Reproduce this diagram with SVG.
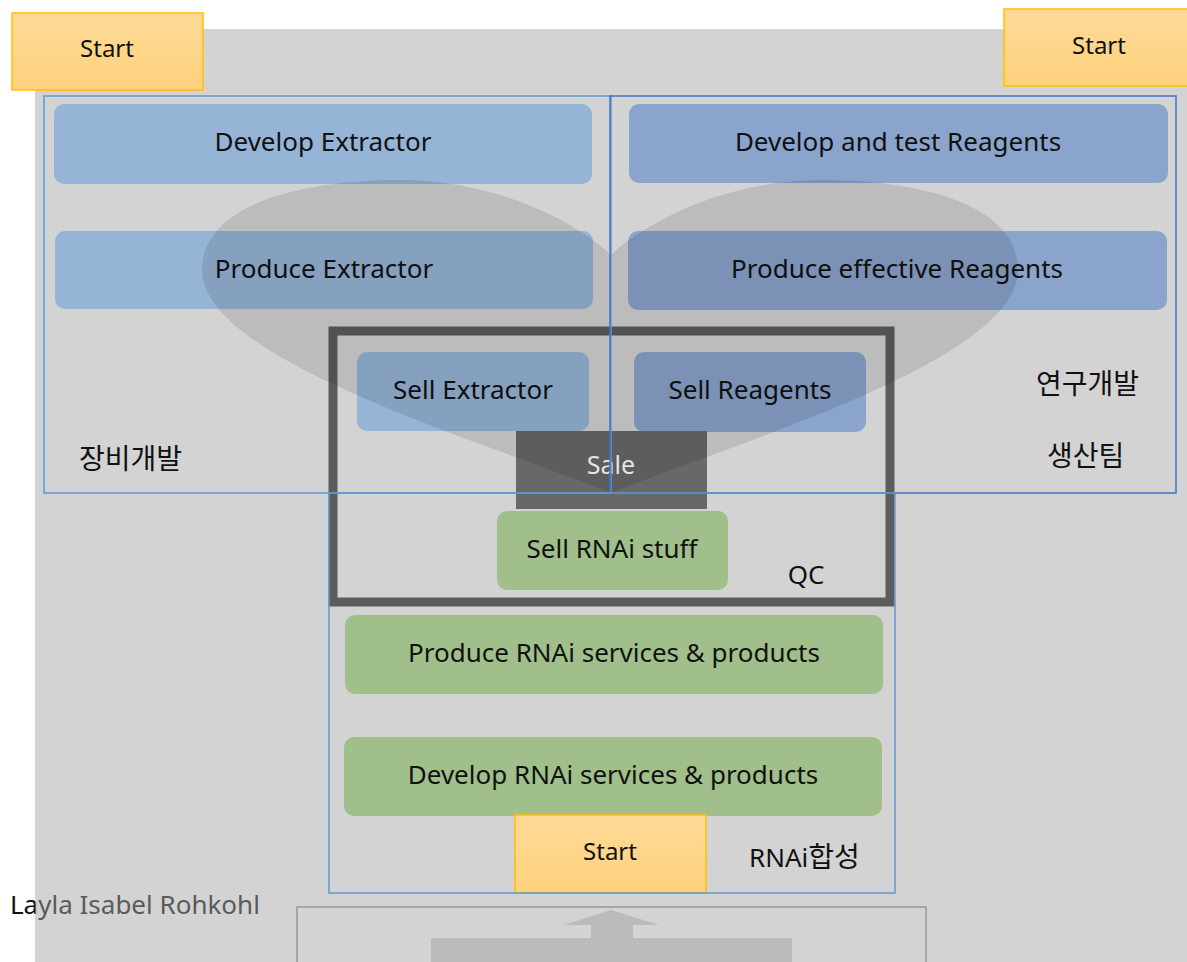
<svg xmlns="http://www.w3.org/2000/svg" width="1187" height="962" viewBox="0 0 1187 962">
<style>
text{font-family:"Noto Sans","Noto Sans CJK KR",sans-serif;font-size:26px;fill:#111;text-anchor:middle}
.lbl{text-anchor:start}
.ko{font-size:28px}
.st{font-size:24px}
.ext{fill:#95b4d6}
.rea{fill:#8aa4cc}
.grn{fill:#a0bf8b}
.start{fill:url(#sg);stroke:#ffc000;stroke-width:1.5}
.lane{fill:none;stroke:#5b9bd5;stroke-width:1.5}
.lane2{fill:none;stroke:#4472c4;stroke-width:1.5}
</style>
<defs>
<linearGradient id="sg" x1="0" y1="0" x2="0" y2="1">
<stop offset="0" stop-color="#ffda98"/>
<stop offset="1" stop-color="#fed27c"/>
</linearGradient>
<linearGradient id="ag" gradientUnits="userSpaceOnUse" x1="0" y1="0" x2="1187" y2="0">
<stop offset="0.0295" stop-color="#111"/>
<stop offset="0.0295" stop-color="#5a5a5a"/>
</linearGradient>
</defs>
<rect x="0" y="0" width="1187" height="962" fill="#ffffff"/>
<rect x="35" y="29" width="1152" height="933" fill="#d3d3d3"/>

<g id="start-left"><rect class="start" x="12" y="13" width="191" height="77"/><text class="st" x="107" y="57">Start</text></g>
<g id="start-right"><rect class="start" x="1004" y="9" width="190" height="77"/><text class="st" x="1099" y="54">Start</text></g>

<g id="develop-extractor"><rect class="ext" x="54" y="104" width="538" height="80" rx="10"/><text x="323" y="151">Develop Extractor</text></g>
<g id="produce-extractor"><rect class="ext" x="55" y="231" width="538" height="78" rx="10"/><text x="324" y="278">Produce Extractor</text></g>
<g id="develop-reagents"><rect class="rea" x="629" y="104" width="539" height="79" rx="10"/><text x="898" y="151">Develop and test Reagents</text></g>
<g id="produce-reagents"><rect class="rea" x="628" y="231" width="539" height="79" rx="10"/><text x="897" y="278">Produce effective Reagents</text></g>
<g id="sell-extractor"><rect class="ext" x="357" y="352" width="232" height="79" rx="10"/><text x="473" y="399">Sell Extractor</text></g>
<g id="sell-reagents"><rect class="rea" x="634" y="352" width="232" height="80" rx="10"/><text x="750" y="399">Sell Reagents</text></g>
<g id="sale"><rect x="516" y="431" width="191" height="78" fill="#686868"/><text x="611" y="474" style="fill:#ffffff;font-size:25px">Sale</text></g>
<g id="sell-rnai"><rect class="grn" x="497" y="511" width="231" height="79" rx="10"/><text x="612" y="558">Sell RNAi stuff</text></g>
<g id="produce-rnai"><rect class="grn" x="345" y="615" width="538" height="79" rx="10"/><text x="614" y="662">Produce RNAi services &amp; products</text></g>
<g id="develop-rnai"><rect class="grn" x="344" y="737" width="538" height="79" rx="10"/><text x="613" y="784">Develop RNAi services &amp; products</text></g>
<g id="start-bottom"><rect class="start" x="515" y="815" width="191" height="78"/><text class="st" x="610" y="860">Start</text></g>

<g id="qc"><rect x="333" y="331" width="557" height="271" fill="none" stroke="#5c5c5c" stroke-width="9"/><text x="806" y="584">QC</text></g>

<g id="heart"><path d="M611,493 C480,440 202,360 202,270 C202,205 300,180 400,180 C500,180 580,225 611,255 C642,225 722,180 822,180 C922,180 1018,205 1018,270 C1018,360 742,440 611,493 Z" fill="#000" fill-opacity="0.105"/></g>

<g id="lane-equipment"><rect class="lane" x="44" y="96" width="567" height="397"/><text class="lbl ko" x="79" y="469">장비개발</text></g>
<g id="lane-research"><rect class="lane2" x="610" y="96" width="566" height="397"/><text class="lbl ko" x="1036" y="394">연구개발</text><text class="lbl ko" x="1047" y="466">생산팀</text></g>
<g id="lane-rnai"><rect class="lane" x="329" y="493" width="566" height="400"/><text class="lbl" x="749" y="867">RNAi<tspan class="ko">합성</tspan></text></g>

<g id="connectors">
<rect x="297" y="907" width="629" height="60" fill="none" stroke="#a6a6a6" stroke-width="2"/>
<path d="M611,910 L659,925 L633,925 L633,938 L792,938 L792,962 L431,962 L431,938 L591,938 L591,925 L564,925 Z" fill="#bbbbbb"/>
</g>

<text class="lbl" x="10" y="914" style="fill:url(#ag)">Layla Isabel Rohkohl</text>
</svg>
